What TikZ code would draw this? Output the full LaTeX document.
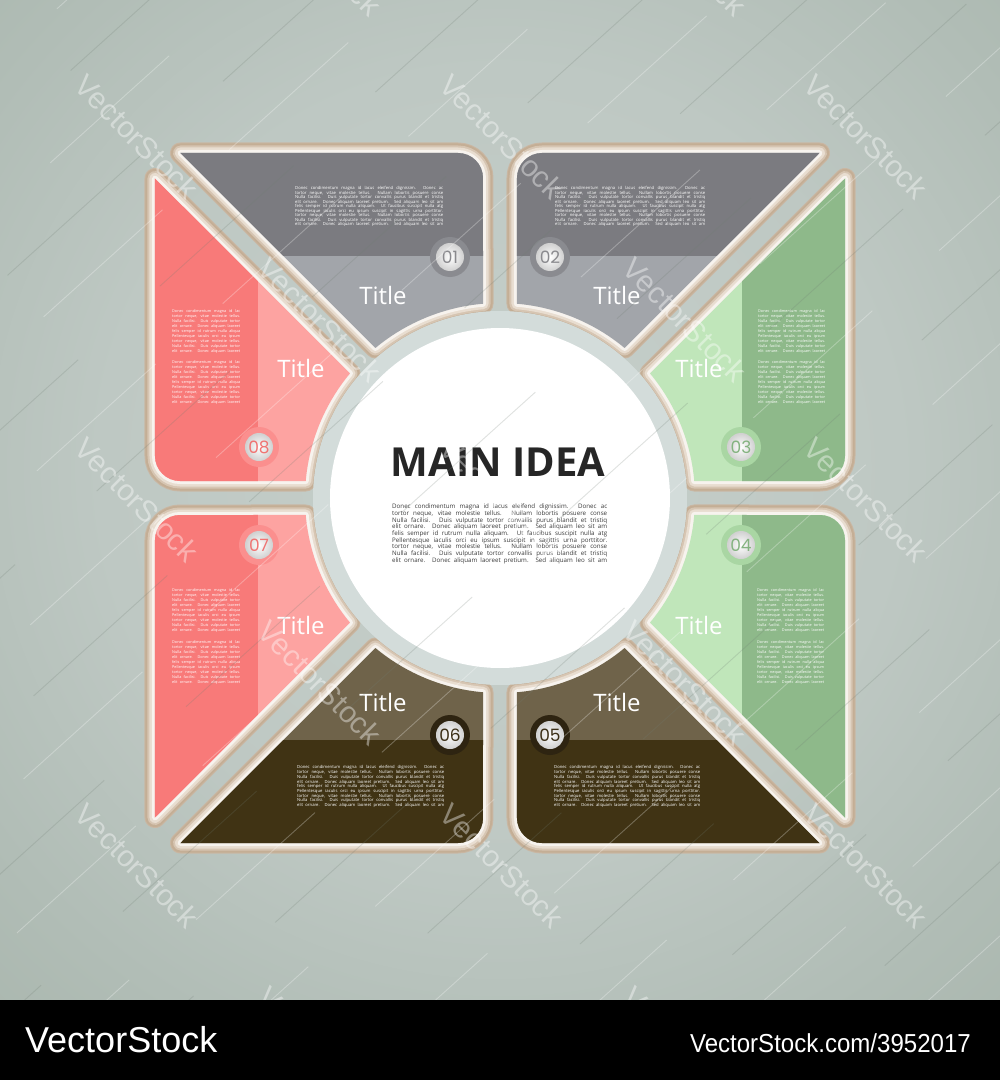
\documentclass[tikz,border=0pt]{standalone}
\usepackage{fontspec}
\usepackage{graphicx}
\newfontfamily\osans{Open Sans}
\newfontfamily\popp{Poppins}
\newfontfamily\lib{Liberation Sans}
\usetikzlibrary{calc}
\definecolor{grayD}{HTML}{7B7B80}
\definecolor{grayL}{HTML}{A2A5AA}
\definecolor{redD}{HTML}{F87A79}
\definecolor{redL}{HTML}{FDA3A1}
\definecolor{greenD}{HTML}{8EB98A}
\definecolor{greenL}{HTML}{C0E6BA}
\definecolor{brownD}{HTML}{403314}
\definecolor{brownL}{HTML}{6F634A}
\definecolor{rim0}{HTML}{C9B7A3}
\definecolor{rim1}{HTML}{C4AE95}
\definecolor{rim2}{HTML}{D6C5B2}
\definecolor{rim3}{HTML}{E8DDD0}
\definecolor{rim4}{HTML}{F7F3EE}
\definecolor{ringc}{HTML}{D3DCDA}
\definecolor{ink}{HTML}{262626}
\definecolor{bodyc}{HTML}{3A3A3A}
\definecolor{badgeedge}{HTML}{D0D0D0}
\definecolor{bg0}{HTML}{C6CFCA}
\definecolor{bg1}{HTML}{BEC8C3}
\definecolor{bg2}{HTML}{B1BDB6}
\definecolor{bg3}{HTML}{A7B4AB}
\definecolor{bg4}{HTML}{9EABA1}
\definecolor{bg5}{HTML}{95A398}
\definecolor{wc1}{HTML}{EBE0D3}
\definecolor{wc2}{HTML}{CDB8A0}
\definecolor{lineg}{HTML}{6F7C72}
\definecolor{grayR}{HTML}{8A8B90}
\definecolor{grayN}{HTML}{8A8A8E}
\definecolor{redR}{HTML}{FB8F8E}
\definecolor{redN}{HTML}{F07473}
\definecolor{greenR}{HTML}{A9D6A3}
\definecolor{greenN}{HTML}{84B380}
\definecolor{brownR}{HTML}{2E2411}
\definecolor{brownN}{HTML}{3B2F17}
\pgfdeclareradialshading{bgsh}{\pgfpoint{0bp}{0bp}}{color(0bp)=(bg0); color(13.5bp)=(bg1); color(21bp)=(bg2); color(28bp)=(bg3); color(37bp)=(bg4); color(50bp)=(bg5)}
\pgfdeclareradialshading{wcsh}{\pgfpoint{0bp}{0bp}}{color(0bp)=(white); color(41bp)=(white); color(46bp)=(wc1); color(50bp)=(wc2)}
\newcommand\jl[2]{\makebox[#1][s]{#2}}
\newcommand\widelorem[1]{%
\jl{#1}{Donec condimentum magna id lacus eleifend dignissim. Donec ac}\\
\jl{#1}{tortor neque, vitae molestie tellus. Nullam lobortis posuere conse}\\
\jl{#1}{Nulla facilisi. Duis vulputate tortor convallis purus blandit et tristiq}\\
\jl{#1}{elit ornare. Donec aliquam laoreet pretium. Sed aliquam leo sit am}\\
\jl{#1}{felis semper id rutrum nulla aliquam. Ut faucibus suscipit nulla atg}\\
\jl{#1}{Pellentesque iaculis orci eu ipsum suscipit in sagittis urna porttitor.}\\
\jl{#1}{tortor neque, vitae molestie tellus. Nullam lobortis posuere conse}\\
\jl{#1}{Nulla facilisi. Duis vulputate tortor convallis purus blandit et tristiq}\\
\jl{#1}{elit ornare. Donec aliquam laoreet pretium. Sed aliquam leo sit am}}
\newcommand\sidelorem[1]{%
\jl{#1}{Donec condimentum magna id lac}\\
\jl{#1}{tortor neque, vitae molestie tellus.}\\
\jl{#1}{Nulla facilisi. Duis vulputate tortor}\\
\jl{#1}{elit ornare. Donec aliquam laoreet}\\
\jl{#1}{felis semper id rutrum nulla aliqua}\\
\jl{#1}{Pellentesque iaculis orci eu ipsum}\\
\jl{#1}{tortor neque, vitae molestie tellus.}\\
\jl{#1}{Nulla facilisi. Duis vulputate tortor}\\
\jl{#1}{elit ornare. Donec aliquam laoreet}}
\newcommand\drawpiece[3]{%
 \begin{scope}[#1]
  \draw[line join=round, rim0, line width=21pt, piecep];
  \draw[line join=round, rim1, line width=19pt, piecep];
  \draw[line join=round, rim2, line width=15pt, piecep];
  \draw[line join=round, rim3, line width=11pt, piecep];
  \draw[line join=round, rim4, line width=6pt, piecep];
  \begin{scope}
   \clip[piecep];
   \fill[#2] (-400,0) rectangle (0,400);
   \fill[#3] (-400,242) rectangle (0,400);
  \end{scope}
 \end{scope}}
\newcommand\badge[5]{%
 \fill[#3] #2 circle (20);
 \node[numc, text=#4] (#1) at #2 {#5};}
\begin{document}
\begin{tikzpicture}[x=1pt,y=1pt,
  piecep/.style={insert path={(-319.5,345) -- (-42,345) arc[start angle=90,end angle=0,radius=25] -- (95:195) arc[start angle=95,end angle=129.7,radius=195] -- cycle}},
  title/.style={font=\osans\fontsize{24}{24}\selectfont, text=white, anchor=base, inner sep=0pt},
  para/.style={inner sep=0pt, anchor=north west, align=left},
  wm/.style={font=\lib\fontsize{30}{30}\selectfont, text=white, text opacity=0.4, rotate=-45, inner sep=0pt},
  numc/.style={circle, inner sep=0pt, minimum size=28pt, inner color=white, outer color=badgeedge, font=\popp\fontsize{17}{17}\selectfont}
]
\useasboundingbox (-500,-582) rectangle (500,498);
% background
\begin{scope}
 \clip (-500,-502) rectangle (500,498);
 \shade[shading=bgsh] (0,30) circle (740);
\end{scope}
% pieces
\drawpiece{shift={(0,0)}}{grayL}{grayD}
\drawpiece{xscale=-1}{grayL}{grayD}
\drawpiece{cm={0,-1,-1,0,(0,0)}}{redL}{redD}
\drawpiece{rotate=90}{redL}{redD}
\drawpiece{rotate=-90}{greenL}{greenD}
\drawpiece{cm={0,1,1,0,(0,0)}}{greenL}{greenD}
\drawpiece{yscale=-1}{brownL}{brownD}
\drawpiece{rotate=180}{brownL}{brownD}
% central circle
\fill[ringc] (0,0) circle (187);
\shade[shading=wcsh] (0,0) circle (170);
\node[font=\osans\bfseries\fontsize{40}{40}\selectfont, text=ink, anchor=base, inner sep=0pt] (main) at (-2,22) {MAIN IDEA};
\node[para, text=bodyc, font=\osans\fontsize{6.2}{6.67}\selectfont] (body) at (-108,-6) {\widelorem{215pt}};
% piece texts
\node[para, text=white, font=\osans\fontsize{4.2}{4.5}\selectfont] (p1) at (-205,311.5) {\widelorem{148pt}};
\node[para, text=white, font=\osans\fontsize{4.2}{4.5}\selectfont] (p2) at (55,311.5) {\widelorem{150pt}};
\node[para, text=white, font=\osans\fontsize{4.2}{4.7}\selectfont] (p6) at (-203,-267.5) {\widelorem{147pt}};
\node[para, text=white, font=\osans\fontsize{4.2}{4.7}\selectfont] (p5) at (54,-267.5) {\widelorem{146pt}};
\node[para, text=white, font=\osans\fontsize{3.8}{5}\selectfont] (p8a) at (-328,188.9) {\sidelorem{68pt}};
\node[para, text=white, font=\osans\fontsize{3.8}{5}\selectfont] (p8b) at (-328,137.9) {\sidelorem{68pt}};
\node[para, text=white, font=\osans\fontsize{3.8}{5}\selectfont] (p7a) at (-328,-90.4) {\sidelorem{68pt}};
\node[para, text=white, font=\osans\fontsize{3.8}{5}\selectfont] (p7b) at (-328,-142.1) {\sidelorem{68pt}};
\node[para, text=white, font=\osans\fontsize{3.8}{5}\selectfont] (p3a) at (258,188.9) {\sidelorem{67pt}};
\node[para, text=white, font=\osans\fontsize{3.8}{5}\selectfont] (p3b) at (258,137.9) {\sidelorem{67pt}};
\node[para, text=white, font=\osans\fontsize{3.8}{5}\selectfont] (p4a) at (257,-90.4) {\sidelorem{67pt}};
\node[para, text=white, font=\osans\fontsize{3.8}{5}\selectfont] (p4b) at (257,-142.1) {\sidelorem{67pt}};
% titles
\node[title] (t1) at (-117,194) {Title};
\node[title] (t2) at (117,194) {Title};
\node[title] (t8) at (-199,121) {Title};
\node[title] (t3) at (199,121) {Title};
\node[title] (t7) at (-199,-136) {Title};
\node[title] (t4) at (199,-136) {Title};
\node[title] (t6) at (-117,-213) {Title};
\node[title] (t5) at (117,-213) {Title};
% badges
\badge{b1}{(-50,241)}{grayR}{grayN}{01}
\badge{b2}{(50,241)}{grayR}{grayN}{02}
\badge{b8}{(-241,51)}{redR}{redN}{08}
\badge{b7}{(-241,-47)}{redR}{redN}{07}
\badge{b3}{(241,51)}{greenR}{greenN}{03}
\badge{b4}{(241,-47)}{greenR}{greenN}{04}
\badge{b6}{(-50,-237)}{brownR}{brownN}{06}
\badge{b5}{(50,-237)}{brownR}{brownN}{05}
% watermark lines and texts
\begin{scope}
 \clip (-500,-502) rectangle (500,498);
 \begin{scope}[rotate=42]
  \foreach \k in {-14,-12,...,14}
   \draw[white, opacity=0.28, line width=0.9pt, dash pattern=on 160pt off 90pt, dash phase=\k*71pt] (-900,\k*55) -- (900,\k*55);
  \foreach \k in {-13,-11,...,13}
   \draw[lineg, opacity=0.22, line width=0.9pt, dash pattern=on 180pt off 110pt, dash phase=\k*53pt] (-900,\k*55) -- (900,\k*55);
 \end{scope}
 \foreach \wx/\wy [count=\i] in {-363/361,2/361,366/361,-180/178,185/178,-363/-2,2/-2,366/-2,-180/-185,185/-185,-363/-368,2/-368,366/-368,-180/544,185/544,-180/-551,185/-551}
  \node[wm] (wm\i) at (\wx,\wy) {VectorStock};
\end{scope}
% bottom band
\fill[black] (-500,-502) rectangle (500,-582);
\node[font=\lib\fontsize{36}{36}\selectfont, text=white, anchor=base west, inner sep=0pt] (vs) at (-475,-554) {VectorStock};
\node[font=\lib\fontsize{26}{26}\selectfont, text=white, anchor=base east, inner sep=0pt] (vsurl) at (471,-554) {\scalebox{0.925}[1]{VectorStock.com/3952017}};
\end{tikzpicture}
\end{document}
